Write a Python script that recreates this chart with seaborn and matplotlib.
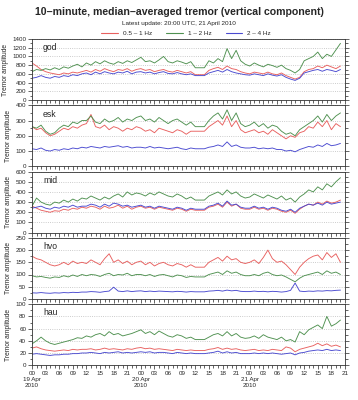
import numpy as np
import pandas as pd
import seaborn as sns
import matplotlib.pyplot as plt
import matplotlib.dates as mdates
from matplotlib.lines import Line2D
from matplotlib.ticker import MultipleLocator

# hourly readings, 19 Apr 00:00 -> 21 Apr 20:00 (UTC)
times = pd.date_range("2010-04-19 00:00", "2010-04-21 20:00", freq="h")

stations = ["god", "esk", "mid", "hvo", "hau"]
bands = ["0.5 – 1 Hz", "1 – 2 Hz", "2 – 4 Hz"]
band_colors = ["#e8605f", "#4f9150", "#4a4ad0"]
ylims = [1400, 400, 600, 250, 100]
ysteps = [200, 100, 100, 50, 20]

god_low = [850, 780, 700, 650, 620, 600, 580, 620, 600, 640, 620, 650,
           680, 640, 700, 660, 720, 680, 650, 700, 680, 720, 660, 700,
           720, 680, 700, 650, 680, 700, 660, 640, 680, 650, 620, 650,
           580, 580, 580, 680, 720, 750, 700, 780, 720, 700, 650, 620,
           600, 640, 620, 600, 640, 600, 580, 620, 560, 520, 480, 520,
           650, 700, 720, 780, 740, 800, 760, 720, 780]
god_mid = [650, 700, 680, 720, 690, 740, 700, 760, 730, 780, 820, 760,
           850, 800, 880, 830, 900, 850, 820, 880, 840, 900, 860, 920,
           980, 880, 900, 850, 920, 1000, 880, 850, 900, 870, 830, 880,
           740, 740, 740, 900, 850, 950, 880, 1180, 950, 1140, 900, 820,
           780, 850, 800, 760, 820, 790, 750, 800, 720, 680, 620, 700,
           900, 950, 1000, 1100, 950, 1050, 1000, 1150, 1300]
god_high = [500, 520, 560, 520, 500, 540, 520, 560, 540, 580, 560, 600,
            620, 580, 640, 600, 650, 620, 600, 640, 620, 660, 600, 640,
            650, 620, 640, 600, 630, 650, 610, 600, 630, 600, 580, 600,
            560, 560, 560, 620, 650, 680, 640, 700, 650, 620, 600, 580,
            570, 600, 580, 560, 600, 570, 550, 580, 520, 480, 450, 500,
            620, 650, 680, 700, 660, 700, 680, 650, 700]

esk_low = [260, 240, 250, 220, 200, 210, 230, 250, 240, 260, 250, 270,
           280, 340, 260, 250, 270, 240, 260, 250, 230, 250, 240, 260,
           250, 230, 240, 220, 250, 240, 230, 220, 240, 230, 210, 230,
           230, 230, 230, 260, 280, 300, 270, 330, 260, 300, 240, 220,
           230, 240, 220, 230, 210, 240, 220, 200, 180, 200, 190, 220,
           230, 260, 250, 290, 260, 300, 240, 280, 260]
esk_mid = [260, 250, 270, 230, 210, 220, 250, 270, 260, 290, 280, 300,
           300, 330, 290, 280, 310, 290, 300, 320, 290, 310, 300, 320,
           330, 300, 310, 290, 320, 300, 280, 300, 310, 290, 270, 290,
           260, 260, 260, 300, 330, 350, 310, 370, 300, 350, 280, 260,
           270, 290, 260, 280, 250, 270, 260, 230, 210, 220, 200, 240,
           260, 280, 300, 330, 290, 340, 300, 330, 350]
esk_high = [115, 110, 120, 105, 100, 110, 105, 115, 110, 120, 115, 125,
            120, 130, 125, 120, 130, 125, 130, 135, 125, 130, 120, 125,
            125, 120, 130, 120, 125, 120, 115, 120, 125, 115, 110, 120,
            115, 115, 115, 125, 130, 140, 130, 160, 130, 140, 125, 120,
            120, 125, 115, 120, 115, 120, 110, 110, 100, 105, 95, 110,
            120, 130, 125, 140, 130, 150, 135, 140, 150]

mid_low = [260, 240, 220, 210, 200, 215, 210, 230, 220, 240, 230, 250,
           240, 260, 250, 230, 260, 240, 250, 270, 240, 260, 230, 250,
           260, 240, 250, 230, 250, 240, 230, 220, 240, 230, 210, 230,
           220, 220, 220, 250, 260, 280, 250, 300, 260, 280, 240, 230,
           230, 250, 230, 240, 220, 240, 230, 210, 200, 220, 190, 230,
           260, 280, 270, 300, 280, 310, 290, 300, 320]
mid_mid = [260, 340, 300, 280, 270, 300, 290, 320, 300, 330, 310, 340,
           330, 360, 340, 320, 350, 330, 360, 380, 350, 400, 370, 390,
           380, 360, 390, 370, 400, 380, 360, 350, 380, 360, 330, 350,
           320, 320, 320, 360, 380, 400, 370, 420, 380, 400, 360, 340,
           350, 380, 360, 340, 370, 350, 330, 360, 320, 340, 300, 350,
           380, 420, 400, 450, 420, 480, 450, 500, 540]
mid_high = [240, 250, 260, 240, 230, 250, 240, 260, 250, 270, 250, 260,
            260, 280, 270, 250, 280, 260, 290, 280, 260, 270, 250, 260,
            270, 250, 260, 240, 260, 250, 240, 230, 250, 240, 220, 240,
            230, 230, 230, 260, 270, 290, 260, 310, 270, 280, 250, 240,
            240, 260, 240, 250, 230, 250, 240, 220, 210, 230, 200, 240,
            260, 280, 270, 290, 270, 300, 280, 290, 300]

hvo_low = [175, 165, 160, 150, 140, 135, 140, 150, 140, 155, 145, 150,
           145, 160, 150, 140, 165, 185, 150, 160, 145, 155, 140, 150,
           155, 140, 150, 135, 145, 150, 140, 135, 145, 140, 130, 140,
           130, 130, 130, 150, 160, 170, 155, 175, 160, 165, 150, 145,
           150, 160, 145, 170, 200, 165, 150, 155, 140, 120, 100, 130,
           150, 165, 175, 180, 160, 190, 170, 185, 150]
hvo_mid = [95, 90, 92, 88, 85, 90, 88, 95, 90, 98, 92, 100,
           95, 100, 98, 92, 100, 105, 95, 100, 98, 105, 95, 100,
           100, 95, 100, 92, 98, 100, 95, 90, 98, 95, 88, 92,
           90, 90, 90, 100, 105, 110, 100, 115, 105, 110, 100, 95,
           95, 100, 95, 105, 110, 100, 95, 98, 90, 80, 70, 85,
           95, 100, 105, 110, 100, 115, 105, 110, 100]
hvo_high = [25, 24, 26, 24, 23, 25, 24, 26, 25, 27, 26, 28,
            28, 30, 29, 27, 30, 32, 48, 32, 30, 33, 30, 32,
            33, 30, 32, 30, 32, 31, 30, 29, 31, 30, 28, 30,
            29, 29, 29, 32, 33, 35, 32, 36, 33, 35, 31, 30,
            30, 32, 30, 31, 29, 31, 30, 28, 30, 35, 65, 32,
            30, 32, 31, 33, 32, 34, 33, 35, 36]

hau_low = [28, 30, 27, 25, 24, 23, 24, 25, 24, 26, 25, 26,
           26, 27, 25, 26, 28, 26, 27, 26, 25, 27, 26, 28,
           29, 27, 28, 26, 27, 26, 25, 24, 26, 25, 24, 25,
           24, 24, 24, 26, 27, 29, 26, 28, 26, 27, 25, 24,
           25, 26, 24, 25, 24, 26, 25, 24, 30, 28, 22, 26,
           28, 30, 32, 36, 32, 35, 31, 33, 30]
hau_mid = [35, 40, 46, 40, 36, 34, 36, 38, 40, 42, 45, 44,
           48, 46, 50, 52, 48, 55, 50, 52, 48, 50, 52, 55,
           58, 52, 55, 50, 56, 52, 48, 46, 50, 48, 44, 46,
           42, 42, 42, 46, 50, 52, 48, 55, 48, 52, 46, 44,
           45, 48, 44, 50, 46, 44, 42, 46, 40, 42, 38, 55,
           50, 58, 62, 66, 60, 80, 64, 68, 74]
hau_high = [18, 19, 18, 17, 16, 17, 17, 18, 18, 19, 19, 20,
            20, 21, 20, 19, 21, 20, 21, 22, 20, 21, 20, 21,
            22, 21, 22, 20, 21, 21, 20, 19, 21, 20, 19, 20,
            19, 19, 19, 20, 21, 23, 20, 22, 20, 21, 19, 19,
            19, 20, 19, 20, 19, 20, 19, 18, 19, 20, 17, 20,
            21, 23, 24, 25, 24, 26, 24, 25, 24]

data = {
    "god": [god_low, god_mid, god_high],
    "esk": [esk_low, esk_mid, esk_high],
    "mid": [mid_low, mid_mid, mid_high],
    "hvo": [hvo_low, hvo_mid, hvo_high],
    "hau": [hau_low, hau_mid, hau_high],
}

sns.set_style("ticks")
plt.rcParams['font.family'] = ['Liberation Sans', 'DejaVu Sans']

W, H = 358, 400
fig = plt.figure(figsize=(W / 100, H / 100), dpi=100)

left, right = 32, 345
top0, ph, gap = 39, 61, 5.3
xstart = pd.Timestamp("2010-04-19 00:00")
xend = pd.Timestamp("2010-04-21 21:00")

def tick_fmt(x, pos=None):
    d = mdates.num2date(x)
    if d.hour == 0:
        return d.strftime("%H") + "\n" + d.strftime("%d %b").lstrip("0") + "\n" + d.strftime("%Y")
    return d.strftime("%H")

axes = []
for i, st in enumerate(stations):
    t = top0 + i * (ph + gap)
    ax = fig.add_axes([left / W, 1 - (t + ph) / H, (right - left) / W, ph / H])
    for vals, col in zip(data[st], band_colors):
        sns.lineplot(x=times, y=vals, color=col, linewidth=0.65, ax=ax, legend=False)
    ax.set_xlim(xstart, xend)
    ax.set_ylim(0, ylims[i])
    ax.yaxis.set_major_locator(MultipleLocator(ysteps[i]))
    ax.yaxis.set_minor_locator(MultipleLocator(ysteps[i] / 2))
    ax.xaxis.set_major_locator(mdates.HourLocator(byhour=range(0, 24, 3)))
    ax.xaxis.set_minor_locator(mdates.HourLocator())
    ax.grid(axis="y", which="major", linestyle=":", color="#bbbbbb", linewidth=0.6)
    ax.tick_params(axis="both", which="both", direction="out", labelsize=4.5, width=0.5, pad=1.2)
    ax.tick_params(which="major", length=3)
    ax.tick_params(which="minor", length=1.8)
    ax.tick_params(axis="y", right=True, which="both")
    for s in ax.spines.values():
        s.set_linewidth(0.6)
        s.set_color("#333333")
    ax.set_ylabel("Tremor amplitude", fontsize=4.8, labelpad=2.5)
    ax.set_xlabel("")
    ax.text(0.035, 0.93, st, transform=ax.transAxes, fontsize=6.2, va="top", ha="left")
    if i < len(stations) - 1:
        ax.tick_params(axis="x", labelbottom=False)
    else:
        ax.xaxis.set_major_formatter(plt.FuncFormatter(tick_fmt))
        for lbl in ax.get_xticklabels():
            lbl.set_ha("center")
    axes.append(ax)

fig.text(0.5, 1 - 12 / H, "10–minute, median–averaged tremor (vertical component)",
         ha="center", va="center", fontsize=7.6, fontweight="bold")
fig.text(0.5, 1 - 24 / H, "Latest update: 20:00 UTC, 21 April 2010",
         ha="center", va="center", fontsize=4.6)
handles = [Line2D([], [], color=c, linewidth=0.8) for c in band_colors]
fig.legend(handles, bands, loc="center", bbox_to_anchor=(0.52, 1 - 33 / H), ncol=3,
           frameon=False, fontsize=4.6, handlelength=2.6, columnspacing=2.2, handletextpad=0.8)

plt.savefig("out.png", dpi=100)
